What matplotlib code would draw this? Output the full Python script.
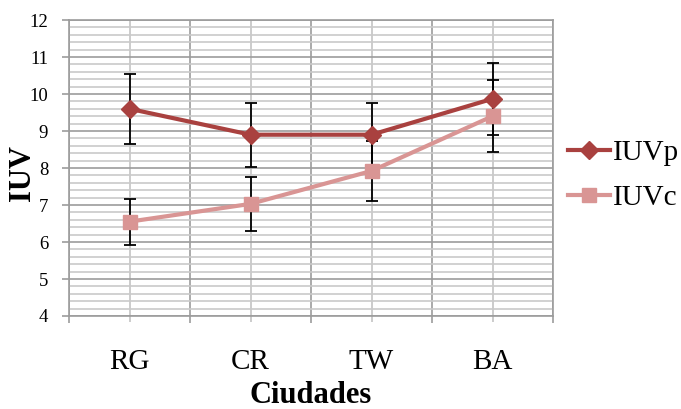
import matplotlib.pyplot as plt
import numpy as np

ciudades = ['RG', 'CR', 'TW', 'BA']
iuvp = [9.6, 8.9, 8.9, 9.87]
iuvp_err = [0.95, 0.87, 0.87, 0.98]
iuvc = [6.55, 7.03, 7.92, 9.4]
iuvc_err = [0.62, 0.72, 0.8, 0.97]

plt.rcParams['font.family'] = ['Liberation Serif', 'DejaVu Serif']

fig = plt.figure(figsize=(6.81, 4.09), dpi=100)
ax = fig.add_axes([69/681, 1-316/409, 484/681, 296/409])

x = np.arange(1, len(ciudades)+1)

# error bars first, below the lines
ax.errorbar(x, iuvp, yerr=iuvp_err, fmt='none', ecolor='black', elinewidth=1.3,
            capsize=4, capthick=1.3, zorder=3)
ax.errorbar(x, iuvc, yerr=iuvc_err, fmt='none', ecolor='black', elinewidth=1.3,
            capsize=4, capthick=1.3, zorder=3)

ax.plot(x, iuvp, color='#A9413F', lw=3, marker='D', ms=9.5, label='IUVp', zorder=5)
ax.plot(x, iuvc, color='#D99594', lw=3, marker='s', ms=10, label='IUVc', zorder=4)

ax.set_xlim(0.5, 4.5)
ax.set_ylim(4, 12)
ax.set_yticks(range(4, 13))
ax.set_yticks(np.arange(4, 12.01, 0.2), minor=True)
ax.set_xticks(x)
ax.set_xticklabels(ciudades)
ax.set_xticks(np.arange(0.5, 4.6, 1), minor=True)

ax.grid(which='major', axis='y', color='#9c9c9c', lw=1.2)
ax.grid(which='minor', axis='y', color='#cacaca', lw=1.2)
ax.grid(which='major', axis='x', color='#c4c4c4', lw=1.2)
ax.grid(which='minor', axis='x', color='#9c9c9c', lw=1.2)
ax.set_axisbelow(True)

ax.tick_params(axis='y', which='major', length=5, color='#9c9c9c', width=1.2,
               labelsize=13.5, pad=10)
ax.tick_params(axis='y', which='minor', length=0)
ax.tick_params(axis='x', which='major', length=4, color='#c4c4c4', width=1.2,
               labelsize=21, pad=20)
ax.tick_params(axis='x', which='minor', length=5, color='#9c9c9c', width=1.2)
for s in ax.spines.values():
    s.set_color('#9c9c9c')
    s.set_linewidth(1.2)

ax.set_xlabel('Ciudades', fontsize=22, fontweight='bold', labelpad=4)
ax.set_ylabel('IUV', fontsize=22, fontweight='bold')
ax.yaxis.set_label_coords(-0.066, 0.483)

ax.legend(loc='center left', bbox_to_anchor=(1.0, 0.475), frameon=False,
          fontsize=21, handlelength=1.45, handletextpad=0.1, labelspacing=0.65,
          borderaxespad=0.3, borderpad=0.2)

plt.savefig('out.png', dpi=100)
plt.close()
